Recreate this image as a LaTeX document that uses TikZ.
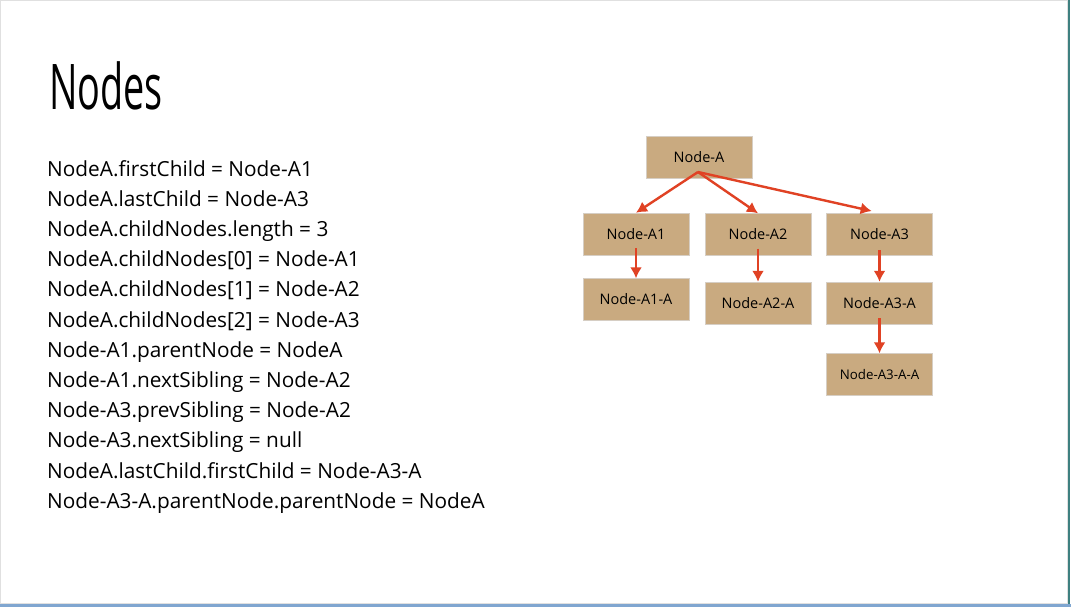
\documentclass[tikz,border=0pt]{standalone}
\usepackage{fontspec}
\setmainfont{Open Sans}
\usepackage{tikz}
\usetikzlibrary{arrows.meta}

\definecolor{boxtan}{RGB}{201,170,128}
\definecolor{boxedge}{RGB}{214,206,196}
\definecolor{arrowred}{RGB}{224,66,36}
\definecolor{frameteal}{RGB}{62,128,128}
\definecolor{frameblue}{RGB}{128,166,208}

\begin{document}
\begin{tikzpicture}[x=1pt,y=-1pt]
				\tikzset{domnode/.style={shape = rectangle, draw = boxedge, fill = boxtan, minimum width = 106pt, minimum height = 42pt, inner sep = 0pt, font = \fontsize{14.5}{17}\selectfont}}
				\tikzset{arr/.style={-{Latex[length = 11pt, width = 12pt]}, draw = arrowred, line width = 2.4pt}}
				\tikzset{codeline/.style={anchor = base west, inner sep = 0pt, font = \fontsize{20.8}{24}\selectfont}}
				%slide
				\useasboundingbox (0, 0) rectangle (1071, 607);
				\fill[white] (0, 0) rectangle (1071, 607);
				\draw[black!12, line width = 0.8pt] (0.5, 0.5) rectangle (1067, 603);
				\fill[frameteal] (1067.5, 0) rectangle (1070, 604);
				\fill[frameblue] (0, 603.5) rectangle (1071, 607);
				%title
				\node[anchor = base west, inner sep = 0pt] (title) at (49, 110) {\scalebox{0.6}[1]{\fontsize{63}{70}\selectfont Nodes}};
				%code lines
				\foreach \txt [count = \i] in {
						NodeA.firstChild = Node-A1,
						NodeA.lastChild = Node-A3,
						NodeA.childNodes.length = 3,
						{NodeA.childNodes[0] = Node-A1},
						{NodeA.childNodes[1] = Node-A2},
						{NodeA.childNodes[2] = Node-A3},
						Node-A1.parentNode = NodeA,
						Node-A1.nextSibling = Node-A2,
						Node-A3.prevSibling = Node-A2,
						Node-A3.nextSibling = null,
						NodeA.lastChild.firstChild = Node-A3-A,
						Node-A3-A.parentNode.parentNode = NodeA}
					\node[codeline] (line\i) at (47, {176 + 30.2*(\i-1)}) {\txt};
				%vertices
				\node[domnode] (nA) at (699, 157) {Node-A};
				\node[domnode] (nA1) at (636, 234) {Node-A1};
				\node[domnode] (nA2) at (758, 234.5) {Node-A2};
				\node[domnode] (nA3) at (879.5, 234) {Node-A3};
				\node[domnode] (nA1A) at (636, 299.5) {Node-A1-A};
				\node[domnode] (nA2A) at (758, 303) {Node-A2-A};
				\node[domnode] (nA3A) at (879.5, 303) {Node-A3-A};
				\node[domnode, font = \fontsize{13.3}{16}\selectfont] (nA3AA) at (879.5, 374.5) {Node-A3-A-A};
				\coordinate (fork) at (698, 172);
				%edges
				\path (fork) edge[arr] (nA1.north);
				\path (fork) edge[arr] (nA2.north);
				\path (fork) edge[arr, shorten >= 8pt] (nA3.north);
				\path (nA1.south) edge[arr, shorten <= -7pt] (nA1A.north);
				\path (nA2.south) edge[arr, shorten <= -7pt] (nA2A.north);
				\path (nA3.south) edge[arr, shorten <= -5pt] (nA3A.north);
				\path (nA3A.south) edge[arr, shorten <= -6pt] (nA3AA.north);
				\end{tikzpicture}
\end{document}
